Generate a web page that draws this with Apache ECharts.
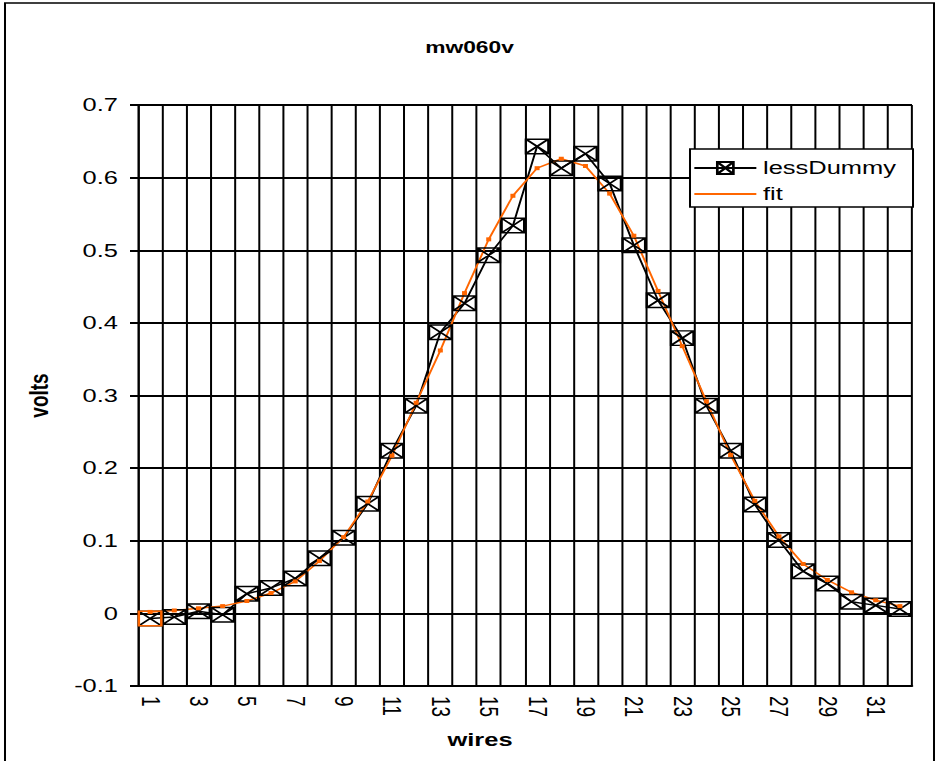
<!DOCTYPE html>
<html>
<head>
<meta charset="utf-8">
<title>mw060v</title>
<script src="https://cdn.jsdelivr.net/npm/echarts@6/dist/echarts.min.js"></script>
<style>
  html, body { margin: 0; padding: 0; background: #fff; }
  #frame { position: absolute; left: 0; top: 0; width: 939px; height: 761px; overflow: hidden; background: #fff; }
  #chart { position: absolute; left: 0; top: 0; transform-origin: 0 0; }
</style>
</head>
<body>
<div id="frame"><div id="chart"></div></div>
<script>
// wire numbers on the category axis
const wires = [1, 2, 3, 4, 5, 6, 7, 8, 9, 10, 11, 12, 13, 14, 15, 16,
               17, 18, 19, 20, 21, 22, 23, 24, 25, 26, 27, 28, 29, 30, 31, 32];

// measured signal per wire (volts)
const lessDummy = [-0.007, -0.005, 0.003, -0.002, 0.027, 0.035, 0.048, 0.076,
                   0.104, 0.151, 0.224, 0.286, 0.387, 0.427, 0.493, 0.534,
                   0.643, 0.613, 0.633, 0.592, 0.507, 0.431, 0.379, 0.286,
                   0.224, 0.150, 0.101, 0.058, 0.041, 0.016, 0.011, 0.006];

// fitted profile per wire (volts)
const fit = [0.002, 0.004, 0.007, 0.010, 0.017, 0.028, 0.044, 0.072,
             0.105, 0.154, 0.217, 0.290, 0.362, 0.441, 0.515, 0.575,
             0.613, 0.626, 0.616, 0.578, 0.520, 0.444, 0.368, 0.292,
             0.218, 0.155, 0.106, 0.068, 0.046, 0.029, 0.018, 0.010];

// value axis range and step
const voltsMin = -0.1, voltsMax = 0.7, voltsStep = 0.1;

// The figure is laid out on a narrower canvas and widened horizontally by K.
const K = 1.34;
const W = 939 / K, H = 761;
const X = px => px / K;           // convert a screen x distance to layout units

const FONT = '"Liberation Sans", Arial, sans-serif';
const FS = 19;                    // tick, legend and axis-title size
const boxX = 'path://M0 0H20V14H0Z M0 0L20 14 M20 0L0 14';
const boxOnly = 'path://M0 0H20V14H0Z';

const el = document.getElementById('chart');
el.style.width = W + 'px';
el.style.height = H + 'px';
el.style.transform = 'scaleX(' + K + ')';

const chart = echarts.init(el, null, { renderer: 'svg', width: W, height: H });

chart.setOption({
  animation: false,
  backgroundColor: '#fff',
  textStyle: { fontFamily: FONT, color: '#000' },
  graphic: [{
    type: 'rect',
    shape: { x: X(5), y: 3, width: X(929), height: 800 },
    style: { fill: 'none', stroke: '#000', lineWidth: 1.5 },
    silent: true, z: 100
  }],
  title: {
    text: 'mw060v',
    left: 'center',
    top: 34,
    textStyle: { fontFamily: FONT, fontWeight: 'bold', fontSize: 17, color: '#000' }
  },
  legend: {
    orient: 'vertical',
    left: X(690),
    top: 149,
    padding: [9, X(17), 3, X(3)],
    itemGap: 6,
    itemWidth: X(62),
    itemHeight: 15,
    backgroundColor: '#fff',
    borderColor: '#000',
    borderWidth: 1.5,
    borderRadius: 0,
    textStyle: { fontFamily: FONT, fontSize: FS, lineHeight: 20, color: '#000' },
    data: [
      { name: 'lessDummy' },
      { name: 'fit', itemStyle: { opacity: 0 } }
    ],
    z: 10
  },
  grid: {
    left: X(138),
    right: W - X(912),
    top: 105,
    bottom: 761 - 686,
    containLabel: false
  },
  xAxis: {
    type: 'category',
    data: wires,
    boundaryGap: true,
    name: 'wires',
    nameLocation: 'middle',
    nameGap: 44,
    nameTextStyle: {
      fontFamily: FONT, fontWeight: 'bold', fontSize: FS, color: '#000',
      padding: [0, X(90), 0, 0]
    },
    axisLine: { onZero: false, lineStyle: { color: '#000', width: 2 } },
    axisTick: { show: false },
    axisLabel: {
      interval: 1,
      rotate: -90,
      margin: 10,
      fontFamily: FONT,
      fontSize: FS,
      color: '#000'
    },
    splitLine: { show: true, interval: 0, lineStyle: { color: '#000', width: X(2) } }
  },
  yAxis: {
    type: 'value',
    min: voltsMin,
    max: voltsMax,
    interval: voltsStep,
    name: 'volts',
    nameLocation: 'middle',
    nameGap: 64,
    nameRotate: 90,
    nameTextStyle: { fontFamily: FONT, fontWeight: 'bold', fontSize: FS, color: '#000' },
    axisLine: { show: true, lineStyle: { color: '#000', width: X(2) } },
    axisTick: { show: true, inside: false, length: X(8), lineStyle: { color: '#000', width: 2 } },
    axisLabel: {
      margin: X(20),
      fontFamily: FONT,
      fontSize: FS,
      color: '#000',
      formatter: v => String(Math.round(v * 10) / 10)
    },
    splitLine: { show: true, lineStyle: { color: '#000', width: 2 } }
  },
  series: [
    {
      name: 'lessDummy',
      type: 'line',
      data: lessDummy,
      symbol: boxX,
      symbolSize: [X(22.5), 14.5],
      showAllSymbol: true,
      lineStyle: { color: '#000', width: 1.5 },
      itemStyle: { color: 'rgba(0,0,0,0)', borderColor: '#000', borderWidth: 1.6 },
      emphasis: { disabled: true },
      markPoint: {
        symbol: boxOnly,
        symbolSize: [X(22.5), 14.5],
        label: { show: false },
        itemStyle: { color: 'rgba(0,0,0,0)', borderColor: '#ff6600', borderWidth: 1.7 },
        data: [{ coord: [0, lessDummy[0]] }]
      }
    },
    {
      name: 'fit',
      type: 'line',
      data: fit,
      symbol: 'rect',
      symbolSize: [X(5), 4],
      showAllSymbol: true,
      lineStyle: { color: '#ff6600', width: 1.5 },
      itemStyle: { color: '#ff6600' },
      emphasis: { disabled: true }
    }
  ]
});
</script>
</body>
</html>
